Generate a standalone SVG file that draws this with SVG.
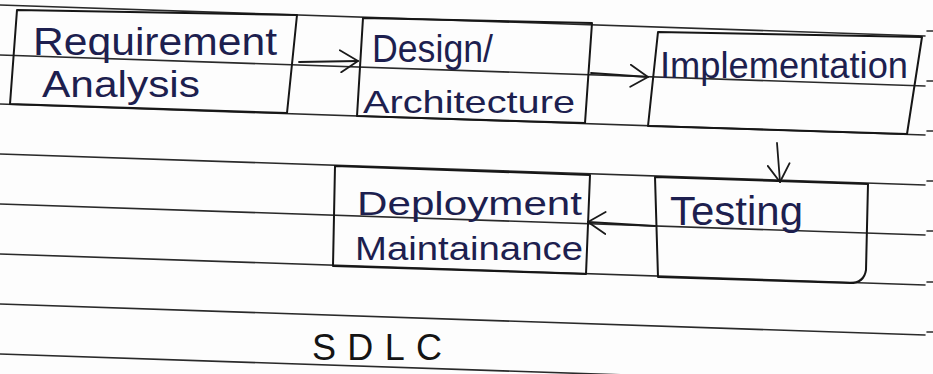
<svg xmlns="http://www.w3.org/2000/svg" width="933" height="374" viewBox="0 0 933 374">
  <defs>
    <style>
      .rule { stroke: #2a2a2a; stroke-width: 1.6; fill: none; stroke-linecap: round; }
      .box { stroke: #161616; stroke-width: 2; fill: none; stroke-linejoin: round; }
      .ink { font-family: 'Liberation Sans', 'DejaVu Sans', sans-serif; fill: #1d1f4f; }
      .conn { stroke: #1a1a1a; stroke-width: 1.8; fill: none; stroke-linecap: round; }
    </style>
    <marker id="open-arrow" viewBox="0 0 20 24" refX="19" refY="12" markerWidth="20" markerHeight="24" markerUnits="userSpaceOnUse" orient="auto">
      <polyline points="1,1 19,12 2,23" fill="none" stroke="#1a1a1a" stroke-width="1.8" stroke-linecap="round" stroke-linejoin="round"/>
    </marker>
  </defs>

  <!-- paper -->
  <rect width="933" height="374" fill="#fdfdfd"/>

  <!-- ruled lines of the notebook page -->
  <g id="ruling">
    <path class="rule" d="M0 5 L925 36"/>
    <path class="rule" d="M0 55 L925 86"/>
    <path class="rule" d="M0 104 L925 135"/>
    <path class="rule" d="M0 154 L925 185"/>
    <path class="rule" d="M0 204 L925 235"/>
    <path class="rule" d="M0 254 L925 285"/>
    <path class="rule" d="M0 304 L925 335"/>
    <path class="rule" d="M0 354 L925 385"/>
    <path class="rule" d="M927 31 L933 31 M927 81 L933 81 M927 131 L933 131 M927 181 L933 181 M927 231 L933 231 M927 282 L933 282 M927 332 L933 332"/>
  </g>

  <!-- connectors -->
  <g id="connectors">
    <path class="conn" d="M299 62 L358 61" marker-end="url(#open-arrow)"/>
    <path class="conn" d="M591 73 L648 77" marker-end="url(#open-arrow)"/>
    <path class="conn" d="M777 143 L780 182" marker-end="url(#open-arrow)"/>
    <path class="conn" d="M655 226 L588 222" marker-end="url(#open-arrow)"/>
  </g>

  <g id="requirement-analysis">
    <path class="box" d="M17 10 L297 15 L287 113 L10 104 Z"/>
    <text class="ink" x="33" y="55" font-size="38" textLength="244" lengthAdjust="spacingAndGlyphs">Requirement</text>
    <text class="ink" x="42" y="97" font-size="36" textLength="158" lengthAdjust="spacingAndGlyphs">Analysis</text>
  </g>

  <g id="design-architecture">
    <path class="box" d="M363 18 L592 23 L585 123 L357 116 Z"/>
    <text class="ink" x="372" y="62" font-size="38" textLength="121" lengthAdjust="spacingAndGlyphs">Design/</text>
    <text class="ink" x="363" y="113" font-size="32" textLength="212" lengthAdjust="spacingAndGlyphs">Architecture</text>
  </g>

  <g id="implementation">
    <path class="box" d="M658 32 L922 37 L907 134 L648 126 Z"/>
    <text class="ink" x="660" y="78" font-size="36" textLength="248" lengthAdjust="spacingAndGlyphs">Implementation</text>
  </g>

  <g id="testing">
    <path class="box" d="M655 177 L868 184 L866 270 Q864 283 850 283 L658 277 Z"/>
    <text class="ink" x="670" y="225" font-size="40" textLength="133" lengthAdjust="spacingAndGlyphs">Testing</text>
  </g>

  <g id="deployment-maintainance">
    <path class="box" d="M335 166 L590 175 L586 274 L333 266 Z"/>
    <text class="ink" x="357" y="215" font-size="34" textLength="225" lengthAdjust="spacingAndGlyphs">Deployment</text>
    <text class="ink" x="355" y="260" font-size="34" textLength="228" lengthAdjust="spacingAndGlyphs">Maintainance</text>
  </g>

  <g id="title">
    <text x="312" y="360" font-family="'Liberation Sans', 'DejaVu Sans', sans-serif" font-size="36" fill="#141414" textLength="130" lengthAdjust="spacing">SDLC</text>
  </g>
</svg>
